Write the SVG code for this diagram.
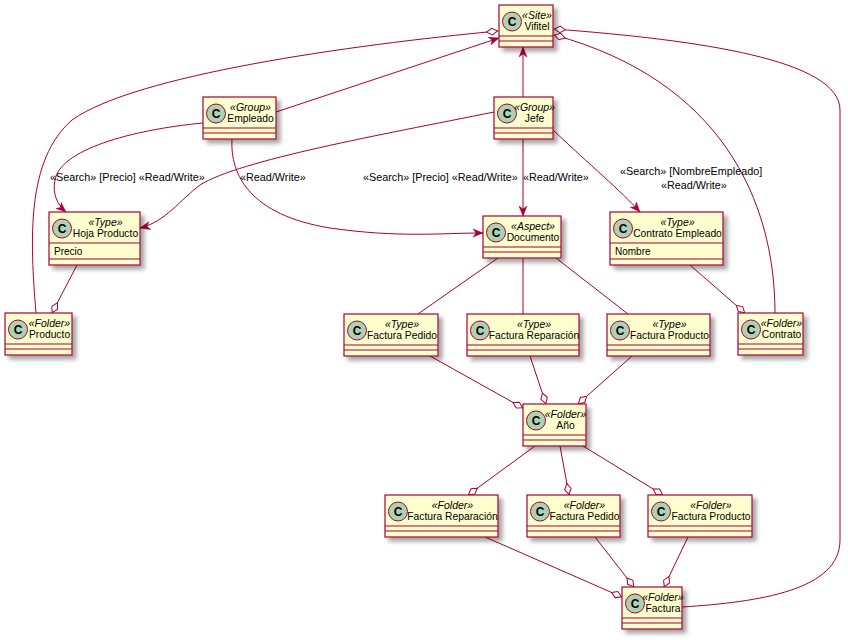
<svg xmlns="http://www.w3.org/2000/svg" width="848" height="640" viewBox="0 0 848 640">
<defs>
<style>
.box{fill:#FEFECE;stroke:#A80036;stroke-width:1.2;filter:url(#sh)}
.sep{stroke:#A80036;stroke-width:1.2}
.ic{fill:#ADD1B2;stroke:#A80036;stroke-width:1}
.cl{font-family:"Liberation Sans",Arial,sans-serif;font-size:12px;font-weight:bold;text-anchor:middle;fill:#000}
.st{font-family:"Liberation Sans",Arial,sans-serif;font-size:10.5px;font-style:italic;text-anchor:middle;fill:#000}
.nm{font-family:"Liberation Sans",Arial,sans-serif;font-size:10.3px;text-anchor:middle;fill:#000}
.fd{font-family:"Liberation Sans",Arial,sans-serif;font-size:10px;fill:#000}
.lb{font-family:"Liberation Sans",Arial,sans-serif;font-size:10.8px;fill:#000}
.e{fill:none;stroke:#A80036;stroke-width:1}
.a{marker-end:url(#arr)}
.d{marker-end:url(#dia)}
</style>
<filter id="sh" x="-20%" y="-20%" width="150%" height="150%">
<feGaussianBlur in="SourceAlpha" stdDeviation="2"/>
<feOffset dx="4" dy="4" result="b"/>
<feComponentTransfer><feFuncA type="linear" slope="0.35"/></feComponentTransfer>
<feMerge><feMergeNode/><feMergeNode in="SourceGraphic"/></feMerge>
</filter>
<marker id="arr" viewBox="0 0 10 10" refX="10" refY="5" markerWidth="10" markerHeight="10" markerUnits="userSpaceOnUse" orient="auto">
<path d="M0,1 L10,5 L0,9 L3,5 Z" fill="#A80036" stroke="#A80036" stroke-width="0.5"/>
</marker>
<marker id="dia" viewBox="0 0 12 8" refX="12" refY="4" markerWidth="12" markerHeight="8" markerUnits="userSpaceOnUse" orient="auto">
<path d="M0.5,4 L6,0.7 L11.5,4 L6,7.3 Z" fill="#fff" stroke="#A80036" stroke-width="1"/>
</marker>
</defs>
<rect width="848" height="640" fill="#fff"/>

<g id="connectors">
<path class="e d" d="M36,313 C30,240 26,160 72,120 C135,75 350,45 498,31"/>
<path class="e a" d="M276,112 L499,38"/>
<path class="e a" d="M523,97 L523,47"/>
<path class="e d" d="M775,313 C775,200 720,80 554,35"/>
<path class="e d" d="M682,607 C760,602 840,590 840,540 L840,110 C840,60 700,40 554,29"/>
<path class="e a" d="M203,123 C130,130 60,150 55,180 C52,195 58,205 66,212"/>
<path class="e a" d="M232,139 C230,175 250,215 330,228 C400,238 440,233 483,233"/>
<path class="e a" d="M494,112 C380,135 240,160 200,185 C180,200 165,222 140,228"/>
<path class="e a" d="M523,139 L523,216"/>
<path class="e a" d="M553,130 C590,165 620,190 640,212"/>
<path class="e d" d="M690,265 L745,313"/>
<path class="e d" d="M77,265 L52,313"/>
<path class="e" d="M498,258 L418,314"/>
<path class="e" d="M523,258 L523,314"/>
<path class="e" d="M556,258 L628,314"/>
<path class="e d" d="M430,356 L523,408"/>
<path class="e d" d="M530,356 L546,404"/>
<path class="e d" d="M632,356 L578,404"/>
<path class="e d" d="M535,446 L468,495"/>
<path class="e d" d="M560,446 L569,495"/>
<path class="e d" d="M583,446 L663,495"/>
<path class="e d" d="M485,537 L622,597"/>
<path class="e d" d="M595,537 L634,587"/>
<path class="e d" d="M688,537 L664,587"/>
<text class="lb" x="50" y="181">«Search» [Precio] «Read/Write»</text>
<text class="lb" x="240" y="181">«Read/Write»</text>
<text class="lb" x="363" y="181">«Search» [Precio] «Read/Write»</text>
<text class="lb" x="523" y="181">«Read/Write»</text>
<text class="lb" x="620" y="175">«Search» [NombreEmpleado]</text>
<text class="lb" x="661" y="189">«Read/Write»</text>
</g>

<g id="vifitel">
<rect class="box" x="499" y="5" width="54" height="42"/>
<line class="sep" x1="499" y1="36" x2="553" y2="36"/><line class="sep" x1="499" y1="41" x2="553" y2="41"/>
<circle class="ic" cx="512" cy="21.5" r="9.5"/><text class="cl" x="512" y="25.8">C</text>
<text class="st" x="537" y="18.5">«Site»</text><text class="nm" x="537" y="30">Vifitel</text>
</g>

<g id="empleado">
<rect class="box" x="203" y="97" width="73" height="42"/>
<line class="sep" x1="203" y1="128" x2="276" y2="128"/><line class="sep" x1="203" y1="133" x2="276" y2="133"/>
<circle class="ic" cx="216" cy="113.5" r="9.5"/><text class="cl" x="216" y="117.8">C</text>
<text class="st" x="250.5" y="110.5">«Group»</text><text class="nm" x="250.5" y="122">Empleado</text>
</g>

<g id="jefe">
<rect class="box" x="494" y="97" width="59" height="42"/>
<line class="sep" x1="494" y1="128" x2="553" y2="128"/><line class="sep" x1="494" y1="133" x2="553" y2="133"/>
<circle class="ic" cx="507" cy="113.5" r="9.5"/><text class="cl" x="507" y="117.8">C</text>
<text class="st" x="534.5" y="110.5">«Group»</text><text class="nm" x="534.5" y="122">Jefe</text>
</g>

<g id="hoja-producto">
<rect class="box" x="49" y="212" width="91" height="53"/>
<line class="sep" x1="49" y1="243" x2="140" y2="243"/><line class="sep" x1="49" y1="259" x2="140" y2="259"/>
<circle class="ic" cx="62" cy="228.5" r="9.5"/><text class="cl" x="62" y="232.8">C</text>
<text class="st" x="105.5" y="225.5">«Type»</text><text class="nm" x="105.5" y="237">Hoja Producto</text>
<text class="fd" x="54" y="255">Precio</text>
</g>

<g id="documento">
<rect class="box" x="483" y="216" width="78" height="42"/>
<line class="sep" x1="483" y1="247" x2="561" y2="247"/><line class="sep" x1="483" y1="252" x2="561" y2="252"/>
<circle class="ic" cx="496" cy="232.5" r="9.5"/><text class="cl" x="496" y="236.8">C</text>
<text class="st" x="533" y="229.5">«Aspect»</text><text class="nm" x="533" y="241">Documento</text>
</g>

<g id="contrato-empleado">
<rect class="box" x="610" y="212" width="113" height="53"/>
<line class="sep" x1="610" y1="243" x2="723" y2="243"/><line class="sep" x1="610" y1="259" x2="723" y2="259"/>
<circle class="ic" cx="623" cy="228.5" r="9.5"/><text class="cl" x="623" y="232.8">C</text>
<text class="st" x="677.5" y="225.5">«Type»</text><text class="nm" x="677.5" y="237">Contrato Empleado</text>
<text class="fd" x="615" y="255">Nombre</text>
</g>

<g id="producto">
<rect class="box" x="5" y="313" width="67" height="42"/>
<line class="sep" x1="5" y1="344" x2="72" y2="344"/><line class="sep" x1="5" y1="349" x2="72" y2="349"/>
<circle class="ic" cx="18" cy="329.5" r="9.5"/><text class="cl" x="18" y="333.8">C</text>
<text class="st" x="49.5" y="326.5">«Folder»</text><text class="nm" x="49.5" y="338">Producto</text>
</g>

<g id="factura-pedido-type">
<rect class="box" x="344" y="314" width="94" height="42"/>
<line class="sep" x1="344" y1="345" x2="438" y2="345"/><line class="sep" x1="344" y1="350" x2="438" y2="350"/>
<circle class="ic" cx="357" cy="330.5" r="9.5"/><text class="cl" x="357" y="334.8">C</text>
<text class="st" x="402" y="327.5">«Type»</text><text class="nm" x="402" y="339">Factura Pedido</text>
</g>

<g id="factura-reparacion-type">
<rect class="box" x="467" y="314" width="112" height="42"/>
<line class="sep" x1="467" y1="345" x2="579" y2="345"/><line class="sep" x1="467" y1="350" x2="579" y2="350"/>
<circle class="ic" cx="480" cy="330.5" r="9.5"/><text class="cl" x="480" y="334.8">C</text>
<text class="st" x="534" y="327.5">«Type»</text><text class="nm" x="534" y="339">Factura Reparación</text>
</g>

<g id="factura-producto-type">
<rect class="box" x="607" y="314" width="103" height="42"/>
<line class="sep" x1="607" y1="345" x2="710" y2="345"/><line class="sep" x1="607" y1="350" x2="710" y2="350"/>
<circle class="ic" cx="620" cy="330.5" r="9.5"/><text class="cl" x="620" y="334.8">C</text>
<text class="st" x="669.5" y="327.5">«Type»</text><text class="nm" x="669.5" y="339">Factura Producto</text>
</g>

<g id="contrato">
<rect class="box" x="738" y="313" width="65" height="42"/>
<line class="sep" x1="738" y1="344" x2="803" y2="344"/><line class="sep" x1="738" y1="349" x2="803" y2="349"/>
<circle class="ic" cx="751" cy="329.5" r="9.5"/><text class="cl" x="751" y="333.8">C</text>
<text class="st" x="781.5" y="326.5">«Folder»</text><text class="nm" x="781.5" y="338">Contrato</text>
</g>

<g id="anio">
<rect class="box" x="523" y="404" width="63" height="42"/>
<line class="sep" x1="523" y1="435" x2="586" y2="435"/><line class="sep" x1="523" y1="440" x2="586" y2="440"/>
<circle class="ic" cx="536" cy="420.5" r="9.5"/><text class="cl" x="536" y="424.8">C</text>
<text class="st" x="565.5" y="417.5">«Folder»</text><text class="nm" x="565.5" y="429">Año</text>
</g>

<g id="factura-reparacion-folder">
<rect class="box" x="385" y="495" width="113" height="42"/>
<line class="sep" x1="385" y1="526" x2="498" y2="526"/><line class="sep" x1="385" y1="531" x2="498" y2="531"/>
<circle class="ic" cx="398" cy="511.5" r="9.5"/><text class="cl" x="398" y="515.8">C</text>
<text class="st" x="452.5" y="508.5">«Folder»</text><text class="nm" x="452.5" y="520">Factura Reparación</text>
</g>

<g id="factura-pedido-folder">
<rect class="box" x="527" y="495" width="93" height="42"/>
<line class="sep" x1="527" y1="526" x2="620" y2="526"/><line class="sep" x1="527" y1="531" x2="620" y2="531"/>
<circle class="ic" cx="540" cy="511.5" r="9.5"/><text class="cl" x="540" y="515.8">C</text>
<text class="st" x="584.5" y="508.5">«Folder»</text><text class="nm" x="584.5" y="520">Factura Pedido</text>
</g>

<g id="factura-producto-folder">
<rect class="box" x="648" y="495" width="104" height="42"/>
<line class="sep" x1="648" y1="526" x2="752" y2="526"/><line class="sep" x1="648" y1="531" x2="752" y2="531"/>
<circle class="ic" cx="661" cy="511.5" r="9.5"/><text class="cl" x="661" y="515.8">C</text>
<text class="st" x="711" y="508.5">«Folder»</text><text class="nm" x="711" y="520">Factura Producto</text>
</g>

<g id="factura">
<rect class="box" x="622" y="587" width="60" height="42"/>
<line class="sep" x1="622" y1="618" x2="682" y2="618"/><line class="sep" x1="622" y1="623" x2="682" y2="623"/>
<circle class="ic" cx="635" cy="603.5" r="9.5"/><text class="cl" x="635" y="607.8">C</text>
<text class="st" x="663" y="600.5">«Folder»</text><text class="nm" x="663" y="612">Factura</text>
</g>
</svg>
